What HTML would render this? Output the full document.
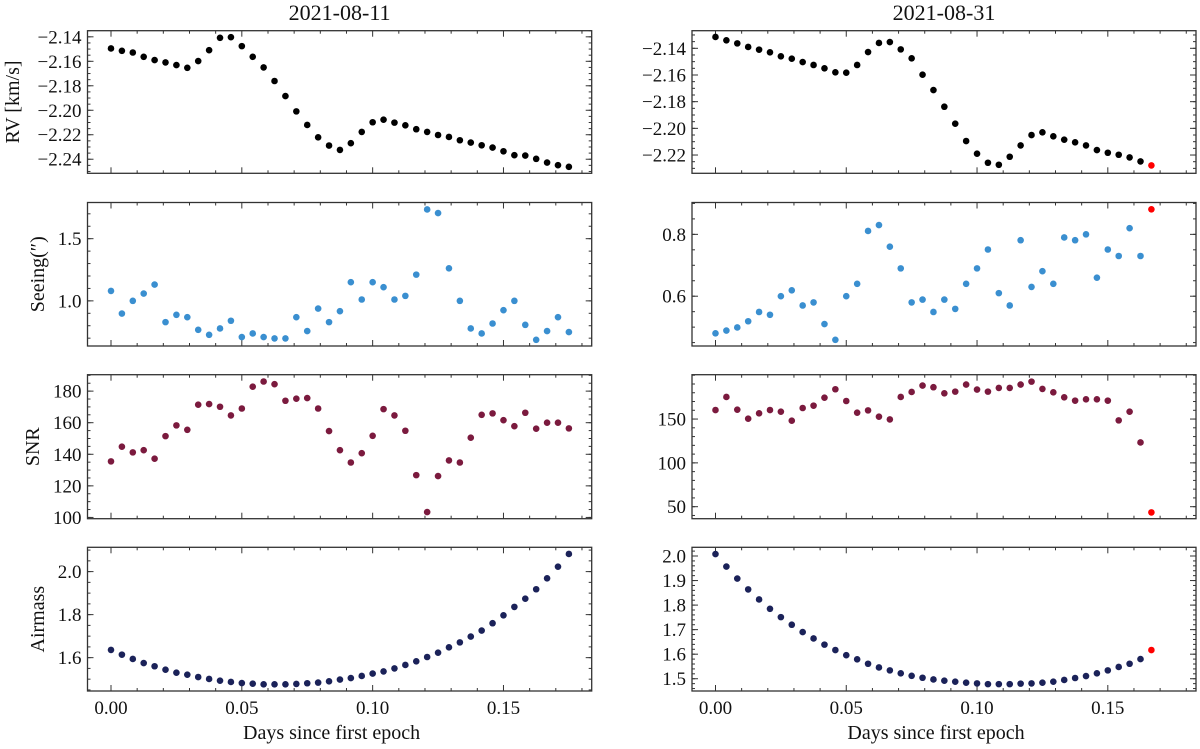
<!DOCTYPE html>
<html><head><meta charset="utf-8"><style>
html,body{margin:0;padding:0;background:#fff}
svg text{font-family:"Liberation Serif",serif;fill:#111}
</style></head><body>
<svg id="fig" width="1200" height="744" viewBox="0 0 1200 744" xmlns="http://www.w3.org/2000/svg"></svg>
<script>
// ---- data ----
const rvLeft=[-2.1495,-2.1514,-2.1528,-2.1563,-2.159,-2.1609,-2.1631,-2.1653,-2.1598,-2.1509,-2.1408,-2.1403,-2.1476,-2.1563,-2.165,-2.1761,-2.1884,-2.2009,-2.212,-2.2221,-2.2288,-2.2324,-2.2269,-2.2177,-2.2098,-2.2077,-2.2101,-2.2123,-2.2155,-2.2177,-2.2202,-2.2218,-2.2245,-2.2264,-2.2286,-2.2305,-2.2335,-2.2367,-2.237,-2.2397,-2.2427,-2.2449,-2.2462];
const seeingLeft=[1.080,0.898,1.0,1.059,1.131,0.829,0.888,0.869,0.767,0.727,0.778,0.840,0.709,0.738,0.709,0.698,0.698,0.869,0.757,0.938,0.829,0.917,1.150,1.011,1.150,1.110,1.011,1.040,1.211,1.735,1.706,1.262,1.0,0.778,0.738,0.818,0.925,1.0,0.807,0.687,0.757,0.869,0.749];
const snrLeft=[135.5,144.8,141.2,142.6,137.2,151.5,158.3,155.5,171.4,171.8,170.1,164.6,169.0,182.8,186.1,184.4,173.9,175.2,175.6,169.0,154.7,142.6,134.8,140.7,151.7,168.6,164.6,154.9,126.8,103.4,126.2,136.1,134.8,150.5,165.0,165.9,161.6,157.8,166.3,156.2,160.0,160.0,156.4];
const airLeft=[1.636,1.614,1.594,1.575,1.560,1.544,1.530,1.521,1.510,1.501,1.493,1.487,1.482,1.479,1.476,1.476,1.476,1.478,1.481,1.484,1.490,1.498,1.505,1.515,1.526,1.536,1.550,1.566,1.583,1.603,1.623,1.648,1.671,1.698,1.726,1.760,1.797,1.836,1.874,1.918,1.969,2.023,2.082];
const rvRight=[-2.1315,-2.134,-2.1363,-2.139,-2.141,-2.143,-2.146,-2.1478,-2.1503,-2.1525,-2.155,-2.158,-2.1583,-2.1525,-2.1428,-2.136,-2.1353,-2.1408,-2.1475,-2.1598,-2.1713,-2.1838,-2.1965,-2.2095,-2.219,-2.2258,-2.2273,-2.2213,-2.2128,-2.205,-2.203,-2.206,-2.2085,-2.2105,-2.2128,-2.2163,-2.2183,-2.2198,-2.2218,-2.2248,-2.2278];
const seeingRight=[0.480,0.489,0.499,0.519,0.549,0.540,0.6,0.619,0.570,0.580,0.510,0.459,0.6,0.640,0.811,0.830,0.760,0.690,0.580,0.589,0.549,0.589,0.559,0.640,0.690,0.751,0.610,0.570,0.781,0.630,0.681,0.640,0.790,0.781,0.8,0.660,0.751,0.730,0.820,0.730,0.881];
const snrRight=[160.3,175.2,160.7,150.4,156.5,160.3,158.4,148.1,162.6,165.3,174.4,184.0,170.6,157.3,159.9,152.7,149.6,175.2,180.9,188.2,186.3,179.4,181.3,189.3,183.6,181.3,185.5,185.5,189.3,192.7,184.4,180.5,174.8,171.0,172.5,172.5,171.0,148.5,158.4,123.3,43.5];
const airRight=[2.008,1.957,1.908,1.864,1.823,1.785,1.751,1.720,1.690,1.664,1.639,1.617,1.596,1.579,1.561,1.546,1.534,1.522,1.512,1.504,1.497,1.492,1.488,1.484,1.481,1.478,1.478,1.478,1.480,1.481,1.484,1.488,1.495,1.503,1.511,1.522,1.534,1.548,1.561,1.580,1.617];
const dayStep=0.0041667;
const xTicks=[0,0.05,0.10,0.15];
const xTickLabels=["0.00","0.05","0.10","0.15"];
const titles=["2021-08-11","2021-08-31"];

const svg=document.getElementById('fig');
const NS='http://www.w3.org/2000/svg';
function mk(tag,attrs,parent){const e=document.createElementNS(NS,tag);for(const k in attrs)e.setAttribute(k,attrs[k]);(parent||svg).appendChild(e);return e;}

const cols=[{x0:87.5,x1:591.7},{x0:692,x1:1196}];
const rows=[{y0:30.7,y1:173.3},{y0:202.5,y1:346},{y0:374.7,y1:518.7},{y0:547.3,y1:691}];
const xmin=-0.00898,xmax=0.18372;

const panels=[
 {c:0,r:0,data:rvLeft,dom:[-2.2515,-2.1350],maj:[-2.24,-2.22,-2.20,-2.18,-2.16,-2.14],dec:2,minStep:0.005,color:'#000',label:'RV [km/s]',lx:13,name:'rv-left'},
 {c:0,r:1,data:seeingLeft,dom:[0.637,1.791],maj:[1.0,1.5],dec:1,minStep:0.1,color:'#3a8fd0',label:'Seeing(″)',lx:38,name:'seeing-left'},
 {c:0,r:2,data:snrLeft,dom:[99.2,190.4],maj:[100,120,140,160,180],dec:0,minStep:5,color:'#7b1a3e',label:'SNR',lx:33,name:'snr-left'},
 {c:0,r:3,data:airLeft,dom:[1.445,2.113],maj:[1.6,1.8,2.0],dec:1,minStep:0.05,color:'#1b2259',label:'Airmass',lx:38,name:'airmass-left'},
 {c:1,r:0,data:rvRight,dom:[-2.2337,-2.1268],maj:[-2.22,-2.20,-2.18,-2.16,-2.14],dec:2,minStep:0.005,color:'#000',red:true,name:'rv-right'},
 {c:1,r:1,data:seeingRight,dom:[0.439,0.903],maj:[0.6,0.8],dec:1,minStep:0.05,color:'#3a8fd0',red:true,name:'seeing-right'},
 {c:1,r:2,data:snrRight,dom:[36.3,200.6],maj:[50,100,150],dec:0,minStep:10,color:'#7b1a3e',red:true,name:'snr-right'},
 {c:1,r:3,data:airRight,dom:[1.45,2.0355],maj:[1.5,1.6,1.7,1.8,1.9,2.0],dec:1,minStep:0.02,color:'#1b2259',red:true,name:'airmass-right'}
];

panels.forEach(p=>{
  const C=cols[p.c],R=rows[p.r];
  const g=mk('g',{});
  
  
  const sx=v=>C.x0+(v-xmin)/(xmax-xmin)*(C.x1-C.x0);
  const sy=v=>R.y1-(v-p.dom[0])/(p.dom[1]-p.dom[0])*(R.y1-R.y0);
  for(let i=0;i<=18;i++){
    const v=i*0.01;const x=sx(v);if(x>C.x1)continue;
    const major=(i%5===0);const L=major?6:3;
    mk('line',{x1:x,x2:x,y1:R.y1,y2:R.y1-L,stroke:'#333','stroke-width':1},g);
    mk('line',{x1:x,x2:x,y1:R.y0,y2:R.y0+L,stroke:'#333','stroke-width':1},g);
  }
  const s0=Math.ceil(p.dom[0]/p.minStep-1e-6);
  for(let k=s0;k*p.minStep<=p.dom[1];k++){
    const y=sy(k*p.minStep);
    mk('line',{x1:C.x0,x2:C.x0+3,y1:y,y2:y,stroke:'#333','stroke-width':1},g);
    mk('line',{x1:C.x1,x2:C.x1-3,y1:y,y2:y,stroke:'#333','stroke-width':1},g);
  }
  p.maj.forEach(v=>{
    const y=sy(v);
    mk('line',{x1:C.x0,x2:C.x0+6,y1:y,y2:y,stroke:'#333','stroke-width':1},g);
    mk('line',{x1:C.x1,x2:C.x1-6,y1:y,y2:y,stroke:'#333','stroke-width':1},g);
    const t=mk('text',{x:C.x0-6,y:y+6.5,'text-anchor':'end','font-size':19},g);
    t.textContent=(v<0?'−':'')+Math.abs(v).toFixed(p.dec);
    
    
  });
  const fr=mk('rect',{x:C.x0,y:R.y0,width:C.x1-C.x0,height:R.y1-R.y0,fill:'none',stroke:'#333','stroke-width':1.3},g);
  
  
  p.data.forEach((v,i)=>{
    const last=p.red&&i===p.data.length-1;
    const c=mk('circle',{cx:sx(i*dayStep),cy:sy(v),r:3.3,fill:last?'#ff0000':p.color},g);
    
    
  });
  if(p.label){
    const cy=(R.y0+R.y1)/2;
    const t=mk('text',{x:p.lx,y:cy,'text-anchor':'middle','dominant-baseline':'central','font-size':20,transform:`rotate(-90 ${p.lx} ${cy})`},g);
    t.textContent=p.label;
    
    
  }
  if(p.r===0){
    const t=mk('text',{x:(C.x0+C.x1)/2,y:20,'text-anchor':'middle','font-size':22},g);
    t.textContent=titles[p.c];
    
    
  }
  if(p.r===3){
    xTicks.forEach((v,i)=>{
      const t=mk('text',{x:sx(v),y:714,'text-anchor':'middle','font-size':19},g);
      t.textContent=xTickLabels[i];
      
      
    });
    const t=mk('text',{x:(C.x0+C.x1)/2-8,y:739,'text-anchor':'middle','font-size':20},g);
    t.textContent='Days since first epoch';
    
    
  }
});
</script>
</body></html>
